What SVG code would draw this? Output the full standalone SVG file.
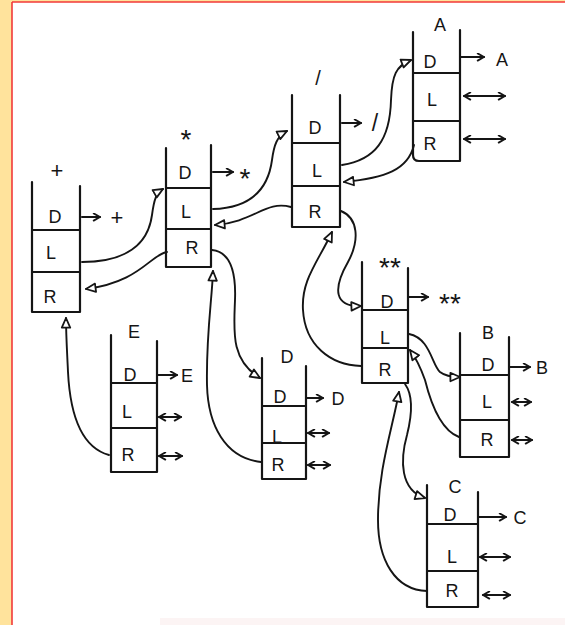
<svg xmlns="http://www.w3.org/2000/svg" width="565" height="625" viewBox="0 0 565 625">
<style>
.n path{fill:none;stroke:#151515;stroke-width:2.2;stroke-linecap:round;stroke-linejoin:round}
.n .a{marker-end:url(#chev)}
.n .d{marker-start:url(#chev);marker-end:url(#chev)}
text{font-family:"Liberation Sans","DejaVu Sans",sans-serif;font-size:18px;fill:#151515;text-anchor:middle}
.st{font-size:28px}
.pl{font-size:22px}
#connectors path{fill:none;stroke:#151515;stroke-width:1.9;stroke-linecap:round;marker-end:url(#tri)}
</style>
<defs>
<marker id="tri" viewBox="0 0 10 10" refX="9" refY="5" markerWidth="12" markerHeight="12" markerUnits="userSpaceOnUse" orient="auto">
<path d="M1,1.5 L9,5 L1,8.5 Z" fill="#fff" stroke="#151515" stroke-width="1.5" stroke-linejoin="round"/>
</marker>
<marker id="chev" viewBox="0 0 10 10" refX="9" refY="5" markerWidth="9" markerHeight="9" markerUnits="userSpaceOnUse" orient="auto-start-reverse">
<path d="M2,1 L9,5 L2,9" fill="none" stroke="#151515" stroke-width="2" stroke-linecap="round" stroke-linejoin="round"/>
</marker>
</defs>
<rect x="0" y="0" width="565" height="625" fill="#FFE39C"/>
<rect x="12" y="2" width="553" height="623" fill="#FFFFFF"/>
<rect x="160" y="618" width="405" height="7" fill="#FCF4F4"/>
<path d="M12,2 H565 M12,2 V625" stroke="#F23A3A" stroke-width="1.6" fill="none"/>

<g id="node-plus" class="n">
<path d="M32,182 V312 H80 V186 M32,230 H80 M32,272 H80"/>
<text class="pl" x="57" y="178">+</text>
<text x="55" y="223">D</text><text x="51" y="259">L</text><text x="50" y="303">R</text>
<path class="a" d="M82,217 H100"/><text class="pl" x="117" y="225">+</text>
</g>
<g id="node-star" class="n">
<path d="M166,148 V267 H211 V145 M166,188 H211 M166,229 H211"/>
<text class="st" x="186" y="149">*</text>
<text x="185" y="179">D</text><text x="186" y="218">L</text><text x="192" y="254">R</text>
<path class="a" d="M213,172 H233"/><text class="st" x="245" y="188">*</text>
</g>
<g id="node-slash" class="n">
<path d="M292,95 V227 H340 V95 M292,143 H340 M292,186 H340"/>
<text x="318" y="85" style="font-size:20px">/</text>
<text x="315" y="134">D</text><text x="317" y="177">L</text><text x="315" y="218">R</text>
<path class="a" d="M342,123 H361"/><text x="375" y="131" style="font-size:23px">/</text>
</g>
<g id="node-A" class="n">
<path d="M413,32 V155 Q413,161 419,161 H460 V30 M413,73 H460 M413,121 H460"/>
<text x="440" y="31">A</text>
<text x="430" y="68">D</text><text x="432" y="106">L</text><text x="430" y="150">R</text>
<path class="a" d="M461,57 H484"/><text x="502" y="66">A</text>
<path class="d" d="M464,96 H505"/>
<path class="d" d="M464,139 H505"/>
</g>
<g id="node-starstar" class="n">
<path d="M362,262 V383 H408 V268 M362,310 H408 M362,348 H408"/>
<text class="st" x="390" y="277">**</text>
<text x="387" y="308">D</text><text x="385" y="344">L</text><text x="385" y="376">R</text>
<path class="a" d="M409,297 H428"/><text class="st" x="450" y="313">**</text>
</g>
<g id="node-B" class="n">
<path d="M460,333 V457 H509 V337 M460,375 H509 M460,420 H509"/>
<text x="488" y="339">B</text>
<text x="488" y="371">D</text><text x="487" y="408">L</text><text x="487" y="446">R</text>
<path class="a" d="M510,367 H530"/><text x="542" y="374">B</text>
<path class="d" d="M512,402 H531"/>
<path class="d" d="M512,440 H532"/>
</g>
<g id="node-E" class="n">
<path d="M111,335 V472 H157 V341 M111,383 H157 M111,428 H157"/>
<text x="134" y="338">E</text>
<text x="130" y="381">D</text><text x="127" y="418">L</text><text x="128" y="461">R</text>
<path class="a" d="M158,375 H177"/><text x="187" y="382">E</text>
<path class="d" d="M159,417 H181"/>
<path class="d" d="M159,456 H182"/>
</g>
<g id="node-D" class="n">
<path d="M262,358 V479 H306 V366 M262,406 H306 M262,443 H306"/>
<text x="287" y="363">D</text>
<text x="280" y="403">D</text><text x="277" y="443">L</text><text x="278" y="471">R</text>
<path class="a" d="M307,398 H323"/><text x="338" y="405">D</text>
<path class="d" d="M308,433 H329"/>
<path class="d" d="M308,465 H330"/>
</g>
<g id="node-C" class="n">
<path d="M427,485 V607 H478 V492 M427,524 H478 M427,571 H478"/>
<text x="455" y="493">C</text>
<text x="450" y="521">D</text><text x="452" y="563">L</text><text x="452" y="597">R</text>
<path class="a" d="M479,517 H506"/><text x="520" y="524">C</text>
<path class="d" d="M480,557 H510"/>
<path class="d" d="M483,595 H510"/>
</g>

<g id="connectors">
<path d="M82,262 C125,262 148,245 152,215 C154,200 156,193 163,189"/>
<path d="M167,252 C150,255 140,282 86,289"/>
<path d="M213,209 C250,208 268,190 272,160 C274,145 277,136 287,131"/>
<path d="M291,207 C265,200 255,222 215,225"/>
<path d="M342,165 C375,160 390,140 391,100 C392,75 396,66 411,60"/>
<path d="M414,145 C408,170 385,178 344,182"/>
<path d="M341,211 C358,218 360,240 348,262 C332,290 335,307 361,306"/>
<path d="M361,366 C330,365 305,345 303,310 C301,280 318,262 332,232"/>
<path d="M212,250 C232,252 236,275 235,300 C234,330 230,360 260,378"/>
<path d="M261,462 C225,458 208,425 207,385 C206,335 212,300 213,271"/>
<path d="M109,455 C80,447 70,412 68,372 C67,350 66,335 66,318"/>
<path d="M409,334 C430,338 432,365 440,372 C445,376 450,377 460,377"/>
<path d="M459,437 C440,430 430,400 425,380 C420,366 416,358 410,350"/>
<path d="M405,384 C413,395 412,415 407,435 C400,460 400,490 425,498"/>
<path d="M427,591 C395,590 378,560 378,520 C378,470 392,430 399,392"/>
</g>
</svg>
